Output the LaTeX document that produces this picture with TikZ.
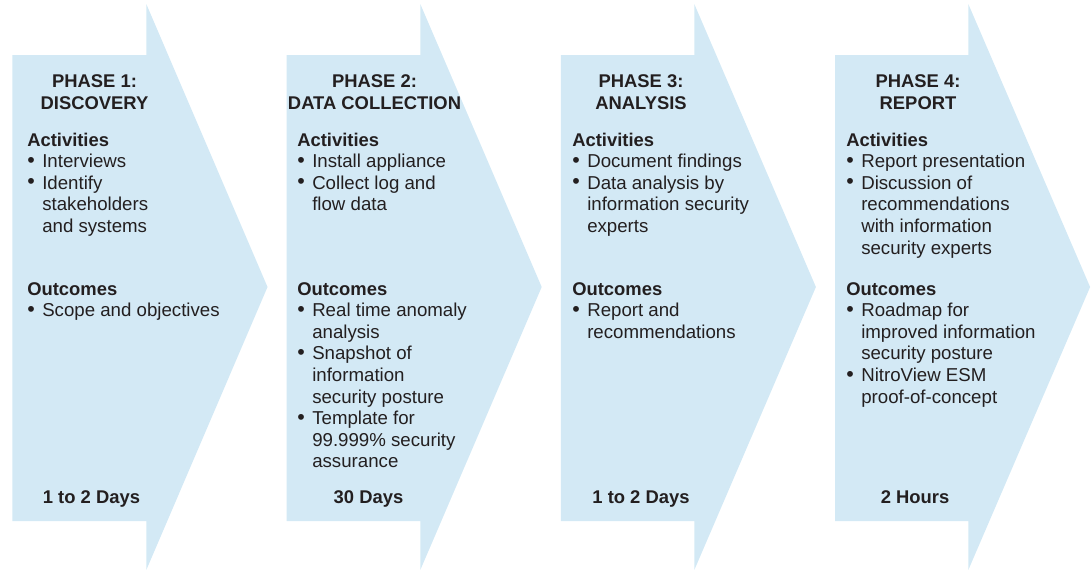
\documentclass[tikz,border=0pt]{standalone}
\usepackage{fontspec}
\setmainfont{Liberation Sans}
\definecolor{arrowfill}{HTML}{D3E9F5}
\definecolor{ink}{HTML}{231F20}
\newcommand{\bul}[1]{\makebox[11.25pt][l]{\raisebox{0.3pt}{\scalebox{1.15}{\textbullet}}}#1}
\newcommand{\cont}[1]{\hspace*{11.25pt}#1}
\tikzset{
  phasearrow/.style={fill=arrowfill,draw=none},
  txt/.style={anchor=base west,inner sep=0pt,text=ink,font=\fontsize{14}{16}\selectfont},
  bold/.style={txt,font=\fontsize{13.8}{16}\selectfont\bfseries},
  hdr/.style={anchor=base,inner sep=0pt,text=ink,font=\fontsize{13.8}{16}\selectfont\bfseries},
}
\begin{document}
\begin{tikzpicture}[x=0.75pt,y=-0.75pt]
\useasboundingbox (0,0) rectangle (1091,569);
% arrows
\foreach \i in {0,1,2,3}{
  \path[phasearrow] ({12.3+274.3*\i},55) -- ({146.3+274*\i},55) -- ({146.3+274*\i},4)
    -- ({267.5+274.2*\i},287) -- ({146.3+274*\i},570) -- ({146.3+274*\i},521)
    -- ({12.3+274.3*\i},521) -- cycle;
}
% headers
\node[hdr] (h1a) at (94.5,87.5) {PHASE 1:};
\node[hdr] (h1b) at (94.5,109) {DISCOVERY};
\node[hdr] (h2a) at (374.5,87.5) {PHASE 2:};
\node[hdr] (h2b) at (374.5,109) {DATA COLLECTION};
\node[hdr] (h3a) at (641,87.5) {PHASE 3:};
\node[hdr] (h3b) at (641,109) {ANALYSIS};
\node[hdr] (h4a) at (918,87.5) {PHASE 4:};
\node[hdr] (h4b) at (918,109) {REPORT};
% activities / outcomes titles
\foreach \x [count=\n] in {27,297,572,846}{
  \node[bold] (act\n) at (\x,146) {Activities};
  \node[bold] (out\n) at (\x,295) {Outcomes};
}
% phase 1
\foreach \t [count=\k from 1] in {\bul{Interviews},\bul{Identify},\cont{stakeholders},\cont{and systems}}
  \node[txt] (p1a\k) at (27,{146+21.6*\k}) {\t};
\foreach \t [count=\k from 1] in {\bul{Scope and objectives}}
  \node[txt] (p1o\k) at (27,{295+21.6*\k}) {\t};
% phase 2
\foreach \t [count=\k from 1] in {\bul{Install appliance},\bul{Collect log and},\cont{flow data}}
  \node[txt] (p2a\k) at (297,{146+21.6*\k}) {\t};
\foreach \t [count=\k from 1] in {\bul{Real time anomaly},\cont{analysis},\bul{Snapshot of},\cont{information},\cont{security posture},\bul{Template for},\cont{99.999\% security},\cont{assurance}}
  \node[txt] (p2o\k) at (297,{295+21.6*\k}) {\t};
% phase 3
\foreach \t [count=\k from 1] in {\bul{Document findings},\bul{Data analysis by},\cont{information security},\cont{experts}}
  \node[txt] (p3a\k) at (572,{146+21.6*\k}) {\t};
\foreach \t [count=\k from 1] in {\bul{Report and},\cont{recommendations}}
  \node[txt] (p3o\k) at (572,{295+21.6*\k}) {\t};
% phase 4
\foreach \t [count=\k from 1] in {\bul{Report presentation},\bul{Discussion of},\cont{recommendations},\cont{with information},\cont{security experts}}
  \node[txt] (p4a\k) at (846,{146+21.6*\k}) {\t};
\foreach \t [count=\k from 1] in {\bul{Roadmap for},\cont{improved information},\cont{security posture},\bul{NitroView ESM},\cont{proof-of-concept}}
  \node[txt] (p4o\k) at (846,{295+21.6*\k}) {\t};
% durations
\node[hdr] (d1) at (91.5,503) {1 to 2 Days};
\node[hdr] (d2) at (368.5,503) {30 Days};
\node[hdr] (d3) at (641,503) {1 to 2 Days};
\node[hdr] (d4) at (915,503) {2 Hours};
\end{tikzpicture}
\end{document}
